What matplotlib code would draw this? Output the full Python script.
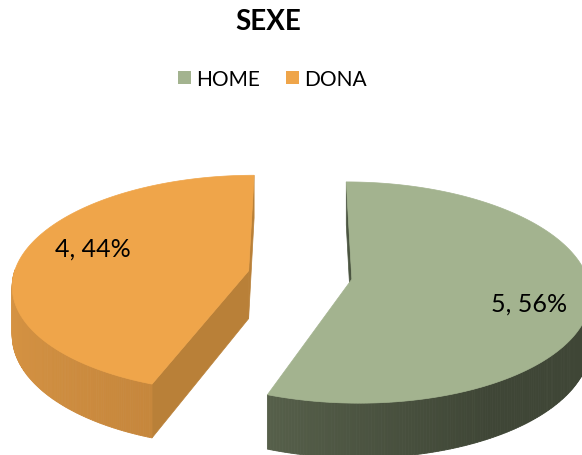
import numpy as np
import matplotlib
matplotlib.use("Agg")
import matplotlib.pyplot as plt
from matplotlib.patches import Polygon, Patch
from matplotlib.colors import to_rgb

# ---- data ----
title = "SEXE"
categories = ["HOME", "DONA"]
values = [5, 4]

# ---- style ----
top_colors = ["#A3B38F", "#EFA54A"]
wall_light = ["#6F7B60", "#D79443"]
wall_dark = ["#3F4636", "#B27734"]
cut_colors = ["#4B5541", "#B98038"]
FONT = "Lato"

W, H = 582, 456
fig = plt.figure(figsize=(W / 100, H / 100), dpi=100)
ax = fig.add_axes([0, 0, 1, 1])
ax.set_xlim(0, W)
ax.set_ylim(H, 0)
ax.axis("off")

# simple perspective projection of a tilted 3D pie
cx, cy = 300, 276
A, B, p = 235, 108, 0.12
thick = 48
explode = 0.223
cam = np.array([0.0, -1.0 / p])


def proj(X, Y, z=0.0):
    d = 1 + p * Y
    return cx + A * X / d, cy - B * Y / d + thick * z / d


def mix(c1, c2, t):
    a, b = np.array(to_rgb(c1)), np.array(to_rgb(c2))
    return tuple(a + (b - a) * t)


total = sum(values)
start = 90.0
for i, v in enumerate(values):
    a0 = start
    a1 = start - 360.0 * v / total
    start = a1
    mid = np.radians((a0 + a1) / 2)
    ox, oy = explode * np.cos(mid), explode * np.sin(mid)
    P = np.array([ox, oy])
    th = np.radians(np.linspace(a1, a0, 300))
    X = ox + np.cos(th)
    Y = oy + np.sin(th)

    # radial cut faces
    for ang, sgn in ((a0, 1), (a1, -1)):
        r = np.radians(ang)
        n = sgn * np.array([-np.sin(r), np.cos(r)])
        if np.dot(n, cam - P) > 0:
            ex, ey = ox + np.cos(r), oy + np.sin(r)
            pts = [proj(ox, oy, 0), proj(ex, ey, 0), proj(ex, ey, 1), proj(ox, oy, 1)]
            ax.add_patch(Polygon(pts, closed=True, facecolor=cut_colors[i],
                                 edgecolor=cut_colors[i], lw=0.5))

    # outer wall (front half), shaded by angle
    front = np.sin(th) <= 0.02
    idx = np.where(front)[0]
    if len(idx) > 1:
        for k in range(len(idx) - 1):
            j0, j1 = idx[k], idx[k + 1]
            if j1 != j0 + 1:
                continue
            tm = (th[j0] + th[j1]) / 2
            nxm = np.cos(tm)
            t = np.clip((nxm + 1) / 2, 0, 1)  # 0 at left, 1 at right
            t = t ** 0.7 if i == 1 else np.clip(t / 0.75, 0, 1) ** 0.8
            col = mix(wall_light[i], wall_dark[i], t)
            pts = [proj(X[j0], Y[j0], 0), proj(X[j1], Y[j1], 0),
                   proj(X[j1], Y[j1], 1), proj(X[j0], Y[j0], 1)]
            ax.add_patch(Polygon(pts, closed=True, facecolor=col, edgecolor=col, lw=0.6))

    # top face
    xs, ys = proj(np.r_[ox, X], np.r_[oy, Y], 0)
    ax.add_patch(Polygon(np.c_[xs, ys], closed=True, facecolor=top_colors[i],
                         edgecolor=top_colors[i], lw=0.5))

    # data label
    la = mid - np.radians(7)
    lx, ly = proj(ox + 0.74 * np.cos(la), oy + 0.74 * np.sin(la), 0)
    ax.text(lx + 4, ly, f"{v}, {round(100 * v / total)}%", ha="center", va="center",
            fontsize=18, family=FONT, color="black")

fig.text(268 / W, 1 - 22 / H, title, ha="center", va="center", fontsize=20,
         fontweight="bold", family=FONT)

handles = [Patch(facecolor=c, edgecolor="none") for c in top_colors]
fig.legend(handles, categories, loc="center", bbox_to_anchor=(272 / W, 1 - 80 / H),
           ncol=2, frameon=False, handlelength=0.62, handleheight=0.62,
           handletextpad=0.25, columnspacing=1.25, prop={"family": FONT, "size": 15})

fig.savefig("out.png", dpi=100)
